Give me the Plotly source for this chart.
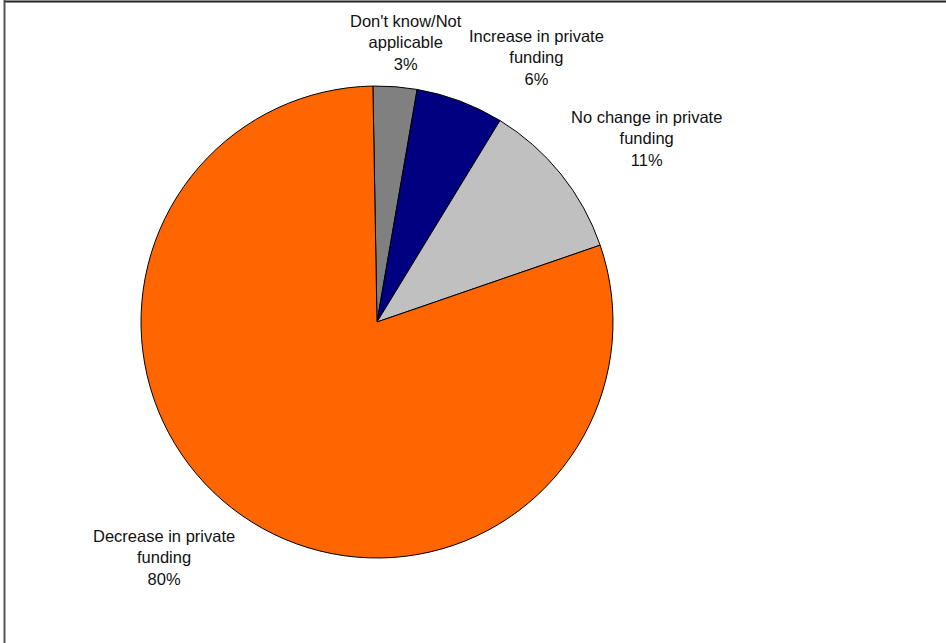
import plotly.graph_objects as go

# Survey responses: expected change in private funding
categories = [
    "Don't know/Not applicable",
    "Increase in private funding",
    "No change in private funding",
    "Decrease in private funding",
]
shares = [3, 6, 11, 80]
colors = ["#808080", "#000080", "#C0C0C0", "#FF6600"]

# label text wrapped the same way the chart shows it
wrapped_labels = [
    "Don't know/Not<br>applicable",
    "Increase in private<br>funding",
    "No change in private<br>funding",
    "Decrease in private<br>funding",
]

W, H = 946, 643
cx, cy, r = 377, 322, 236

fig = go.Figure(
    go.Pie(
        labels=categories,
        values=shares,
        marker=dict(colors=colors, line=dict(color="#000000", width=1)),
        sort=False,
        direction="clockwise",
        rotation=-1,
        textinfo="none",
        hoverinfo="label+percent",
        domain=dict(x=[(cx - r) / W, (cx + r) / W], y=[(H - cy - r) / H, (H - cy + r) / H]),
        showlegend=False,
    )
)

# label anchor points (pixel centres of each label block)
label_pos = [(406, 42), (536, 58), (646, 139), (164, 557)]
total = sum(shares)
for text, v, (px, py) in zip(wrapped_labels, shares, label_pos):
    fig.add_annotation(
        x=px / W, y=1 - py / H, xref="paper", yref="paper",
        text=f"{text}<br>{round(100 * v / total)}%",
        showarrow=False, xanchor="center", yanchor="middle", align="center",
        font=dict(family="Liberation Sans, Arial, sans-serif", size=16.5, color="#111111"),
    )

# chart frame: top and left edges
fig.add_shape(type="line", xref="paper", yref="paper", x0=4 / W, x1=1, y0=1 - 1.5 / H, y1=1 - 1.5 / H,
              line=dict(color="#222222", width=2))
fig.add_shape(type="line", xref="paper", yref="paper", x0=4.5 / W, x1=4.5 / W, y0=0, y1=1,
              line=dict(color="#555555", width=2))

fig.update_layout(
    width=W, height=H,
    margin=dict(l=0, r=0, t=0, b=0),
    paper_bgcolor="#FFFFFF",
    plot_bgcolor="#FFFFFF",
)

fig.write_html("out.html")
